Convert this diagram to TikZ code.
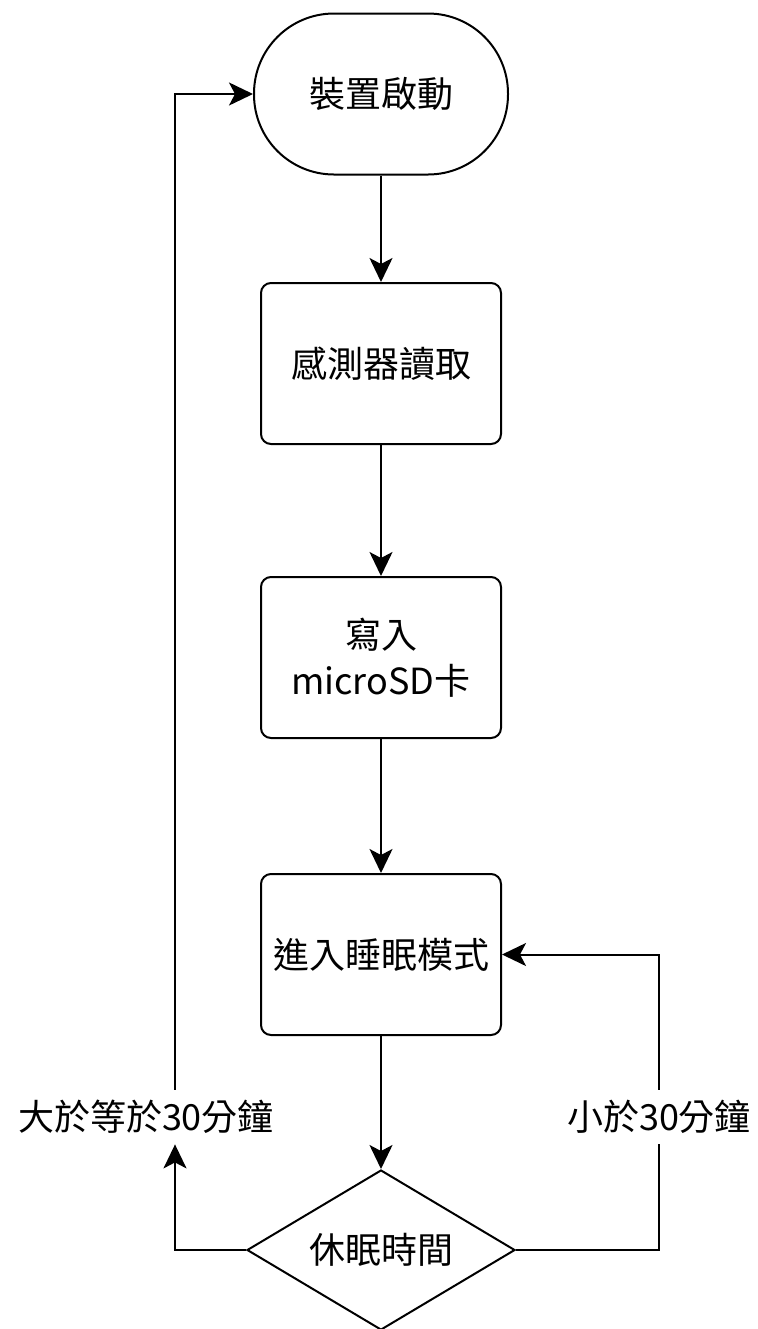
\documentclass[tikz,border=0pt]{standalone}
\usepackage{fontspec}
\setmainfont{Noto Sans CJK TC}
\usetikzlibrary{positioning}
\usetikzlibrary{shapes.geometric}
\usetikzlibrary{arrows.meta}

\tikzset{
  terminal/.style={draw, line width=1pt, rectangle, rounded corners=40pt,
    minimum width=127pt, minimum height=80.5pt},
  process/.style={draw, line width=1pt, rectangle, rounded corners=5pt,
    minimum width=120pt, minimum height=80.5pt, align=center},
  decision/.style={draw, line width=1pt, diamond, aspect=1.675, inner sep=0pt,
    minimum width=134pt, minimum height=80pt},
  lbl/.style={inner sep=0pt, minimum height=27pt},
  line/.style={line width=1pt},
  flow/.style={line, -{Stealth[length=12pt,width=11.5pt,inset=3pt]}},
}

\begin{document}
\begin{tikzpicture}[x=0.5pt, y=-0.5pt, font=\fontsize{18pt}{23pt}\selectfont]
   \useasboundingbox (0,0) rectangle (757,1329);

   \node[terminal] (start) at (381,94) {裝置啟動};
   \node[process, below=53.25pt of start] (read) {感測器讀取};
   \node[process, below=65.5pt of read] (write) {寫入\\microSD卡};
   \node[process, below=67pt of write] (sleep) {進入睡眠模式};
   \node[decision, below=66.5pt of sleep] (dec) {休眠時間};

   % branch labels
   \node[lbl] (ge) at (146,1117) {大於等於30分鐘};
   \node[lbl] (lt) at (659,1117) {小於30分鐘};
   \coordinate (lx) at (175,1117);

   \draw[flow] (start) -- (read);
   \draw[flow] (read) -- (write);
   \draw[flow] (write) -- (sleep);
   \draw[flow] (sleep) -- (dec);

   % loop back
   \draw[flow] (dec.west) -| (lx |- ge.south);
   \draw[flow] (lx |- ge.north) |- (start.west);
   \draw[line] (dec.east) -| (lt.south);
   \draw[flow] (lt.north) |- (sleep.east);
\end{tikzpicture}
\end{document}
